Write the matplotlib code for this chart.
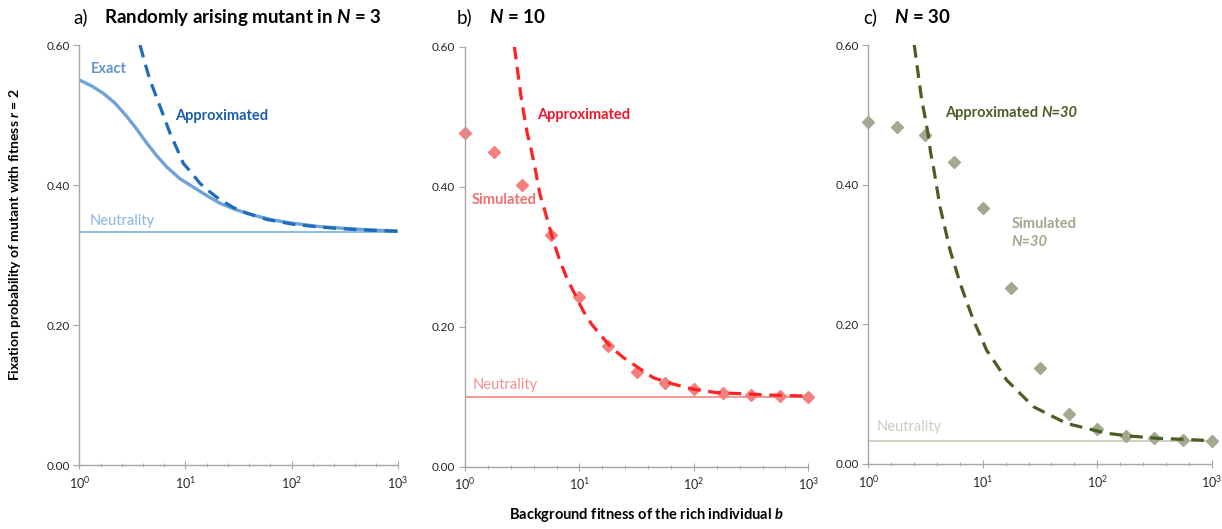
import numpy as np
import matplotlib
matplotlib.use("Agg")
import matplotlib.pyplot as plt
from matplotlib.ticker import FixedLocator, NullFormatter
from matplotlib.transforms import offset_copy

plt.rcParams['font.family'] = ['Lato', 'DejaVu Sans']
plt.rcParams['mathtext.fontset'] = 'custom'
plt.rcParams['mathtext.rm'] = 'Lato'
plt.rcParams['mathtext.it'] = 'Lato:italic'
plt.rcParams['mathtext.bf'] = 'Lato:bold'
plt.rcParams['mathtext.bfit'] = 'Lato:bold:italic'
plt.rcParams['mathtext.default'] = 'regular'

# ---------------- data ----------------
# Panel a, N = 3
exact_a_b = [1.00, 1.31, 1.685, 2.17, 2.80, 3.47, 4.32, 5.36, 6.66, 8.89, 11.9, 15.9,
             21.2, 30.4, 43.7, 67.5, 104, 186, 308, 550, 1000]
exact_a_p = [0.550, 0.5415, 0.531, 0.517, 0.498, 0.480, 0.460, 0.442, 0.426, 0.409, 0.397,
             0.385, 0.374, 0.3645, 0.357, 0.350, 0.3454, 0.3407, 0.3383, 0.3359, 0.3345]
approx_a_b = [3.73, 4.16, 4.63, 5.17, 5.77, 6.43, 7.16, 8.28, 9.55, 11.5, 13.7, 17.1,
              21.2, 28.3, 37.8, 58.3, 104, 186, 358, 631, 1000]
approx_a_p = [0.600, 0.574, 0.550, 0.531, 0.512, 0.493, 0.474, 0.4525, 0.431, 0.417, 0.4025,
              0.390, 0.379, 0.368, 0.360, 0.351, 0.344, 0.340, 0.337, 0.3352, 0.334]

# Panel b, N = 10
sim_b = [1, 1.78, 3.16, 5.62, 10, 17.8, 31.6, 56.2, 100, 178, 316, 562, 1000]
sim_b_p = [0.476, 0.450, 0.402, 0.331, 0.243, 0.172, 0.135, 0.120, 0.111, 0.105, 0.102, 0.101, 0.100]
approx_b_b = [2.70, 3.13, 3.35, 3.51, 3.70, 4.09, 4.52, 5.18, 5.92, 6.76, 7.74, 9.15, 10.8,
              12.8, 15.1, 19.1, 24.2, 32.7, 44.3, 66.2, 99.1, 158, 254, 434, 693, 1000]
approx_b_p = [0.600, 0.522, 0.494, 0.475, 0.461, 0.427, 0.389, 0.356, 0.322, 0.294, 0.270,
              0.246, 0.2225, 0.2034, 0.189, 0.170, 0.156, 0.1415, 0.127, 0.118, 0.1106,
              0.1058, 0.1044, 0.1025, 0.1015, 0.101]

# Panel c, N = 30
sim_c_p = [0.490, 0.482, 0.471, 0.432, 0.367, 0.252, 0.137, 0.072, 0.050, 0.040, 0.037, 0.034, 0.033]
approx_c_b = [2.52, 2.93, 3.13, 3.35, 3.51, 3.70, 3.96, 4.23, 4.68, 5.18, 5.73, 6.33, 7.24,
              8.28, 9.46, 10.8, 13.2, 16.2, 21.2, 27.7, 38.7, 54.2, 81.1, 121, 194, 332,
              568, 1000]
approx_c_p = [0.600, 0.521, 0.497, 0.469, 0.445, 0.426, 0.397, 0.3685, 0.3375, 0.306, 0.283,
              0.259, 0.2325, 0.206, 0.185, 0.163, 0.142, 0.120, 0.101, 0.082, 0.070, 0.058,
              0.051, 0.044, 0.040, 0.0368, 0.0353, 0.0334]

neutrality = [0.3333, 0.100, 0.0333]
y_ticks = [0.0, 0.2, 0.4, 0.6]
x_major = [1, 10, 100, 1000]
x_major_labels = [r'$10^{0}$', r'$10^{1}$', r'$10^{2}$', r'$10^{3}$']

# ---------------- figure ----------------
W, H = 1222, 529
fig = plt.figure(figsize=(W / 100, H / 100), dpi=100)

def px_axes(left, top, right, bottom):
    return fig.add_axes([left / W, 1 - bottom / H, (right - left) / W, (bottom - top) / H])

axA = px_axes(79.3, 45, 397.7, 465.3)
axB = px_axes(465, 46.7, 808.3, 466.7)
axC = px_axes(868.3, 45, 1211.7, 464)

spine_col = '#A6A6A6'
minor = [10 ** (k * 0.2) for k in range(16) if k % 5 != 0]

for ax in (axA, axB, axC):
    ax.set_xscale('log')
    ax.set_xlim(1, 1000)
    ax.set_ylim(0, 0.6)
    for s in ('top', 'right'):
        ax.spines[s].set_visible(False)
    for s in ('left', 'bottom'):
        ax.spines[s].set_color(spine_col)
        ax.spines[s].set_linewidth(1.0)
    ax.set_yticks(y_ticks)
    ax.set_yticklabels(['%.2f' % v for v in y_ticks])
    ax.xaxis.set_major_locator(FixedLocator(x_major))
    ax.set_xticklabels(x_major_labels)
    ax.xaxis.set_minor_locator(FixedLocator(minor))
    ax.xaxis.set_minor_formatter(NullFormatter())
    ax.tick_params(axis='y', direction='out', length=4, color=spine_col,
                   labelsize=8.5, labelcolor='#262626', pad=3)
    ax.tick_params(axis='x', which='major', direction='inout', length=6, color=spine_col,
                   labelsize=9, labelcolor='#262626', pad=4)
    ax.tick_params(axis='x', which='minor', direction='inout', length=3, color=spine_col)
    ax.patch.set_alpha(0)

dash = (0, (4.0, 2.4))
lab_fs = 10.5

# Panel a
col_exact = '#6FA3D6'
col_approx_a = '#1E6BBD'
col_neu_a = '#86B6E2'
axA.axhline(neutrality[0], color=col_neu_a, lw=1.3, zorder=1)
axA.plot(exact_a_b, exact_a_p, color=col_exact, lw=2.4, solid_capstyle='butt',
         solid_joinstyle='round', zorder=2)
axA.plot(approx_a_b, approx_a_p, color=col_approx_a, lw=2.3, linestyle=dash, zorder=3)
axA.text(1.28, 0.566, 'Exact', color='#6394CB', fontsize=lab_fs, fontweight='bold', va='center')
axA.text(7.98, 0.499, 'Approximated', color='#1A5EAB', fontsize=lab_fs, fontweight='bold', va='center')
axA.text(1.24, 0.349, 'Neutrality', color=col_neu_a, fontsize=lab_fs, va='center')

# Panel b
col_sim_b = '#F47F7F'
col_approx_b = '#FF2323'
col_neu_b = '#F59090'
axB.axhline(neutrality[1], color=col_neu_b, lw=1.3, zorder=1)
axB.plot(sim_b, sim_b_p, linestyle='none', marker='D', ms=6.5, color=col_sim_b,
         mec=col_sim_b, clip_on=False, zorder=2)
axB.plot(approx_b_b, approx_b_p, color=col_approx_b, lw=2.3, linestyle=dash, zorder=3)
axB.text(4.26, 0.502, 'Approximated', color='#F0152A', fontsize=lab_fs, fontweight='bold', va='center')
axB.text(1.15, 0.381, 'Simulated', color='#F07070', fontsize=lab_fs, fontweight='bold', va='center')
axB.text(1.17, 0.1167, 'Neutrality', color=col_neu_b, fontsize=lab_fs, va='center')

# Panel c
col_sim_c = '#A3A88E'
col_approx_c = '#4B5E24'
col_neu_c = '#CDCDC0'
axC.axhline(neutrality[2], color=col_neu_c, lw=1.3, zorder=1)
axC.plot(sim_b, sim_c_p, linestyle='none', marker='D', ms=6.5, color=col_sim_c,
         mec=col_sim_c, clip_on=False, zorder=2)
axC.plot(approx_c_b, approx_c_p, color=col_approx_c, lw=2.3, linestyle=dash, zorder=3)
t_app = axC.text(4.68, 0.502, 'Approximated ', color=col_approx_c,
                 fontsize=lab_fs, fontweight='bold', va='center')
axC.text(17.9, 0.344, 'Simulated', color=col_sim_c, fontsize=lab_fs, fontweight='bold', va='center')
axC.text(17.9, 0.318, 'N=30', color=col_sim_c, fontsize=lab_fs,
         fontweight='bold', style='italic', va='center')
axC.text(1.18, 0.053, 'Neutrality', color=col_neu_c, fontsize=lab_fs, va='center')

fig.canvas.draw()
bb = t_app.get_window_extent(renderer=fig.canvas.get_renderer())
tr = offset_copy(axC.transData, fig=fig, x=bb.width * 72 / fig.dpi, y=0, units='points')
axC.text(4.68, 0.502, 'N=30', color=col_approx_c, fontsize=lab_fs, fontweight='bold',
         style='italic', va='center', transform=tr)

# Titles
ty = 1 - 23 / H
tfs = 13.5
fig.text(73 / W, ty, 'a)', fontsize=tfs, va='baseline')
fig.text(104 / W, ty, r'Randomly arising mutant in $\mathbfit{N}$ = 3', fontsize=tfs,
         fontweight='bold', va='baseline')
fig.text(457 / W, ty, 'b)', fontsize=tfs, va='baseline')
fig.text(489 / W, ty, r'$\mathbfit{N}$ = 10', fontsize=tfs, fontweight='bold', va='baseline')
fig.text(863 / W, ty, 'c)', fontsize=tfs, va='baseline')
fig.text(894 / W, ty, r'$\mathbfit{N}$ = 30', fontsize=tfs, fontweight='bold', va='baseline')

# Axis labels
fig.text(15 / W, 1 - 235 / H, r'Fixation probability of mutant with fitness $\mathbfit{r}$ = 2',
         rotation=90, fontsize=10, fontweight='bold', ha='center', va='center')
fig.text(646 / W, 1 - 515 / H, r'Background fitness of the rich individual $\mathbfit{b}$',
         fontsize=10.5, fontweight='bold', ha='center', va='center')

fig.savefig('out.png', dpi=100)
